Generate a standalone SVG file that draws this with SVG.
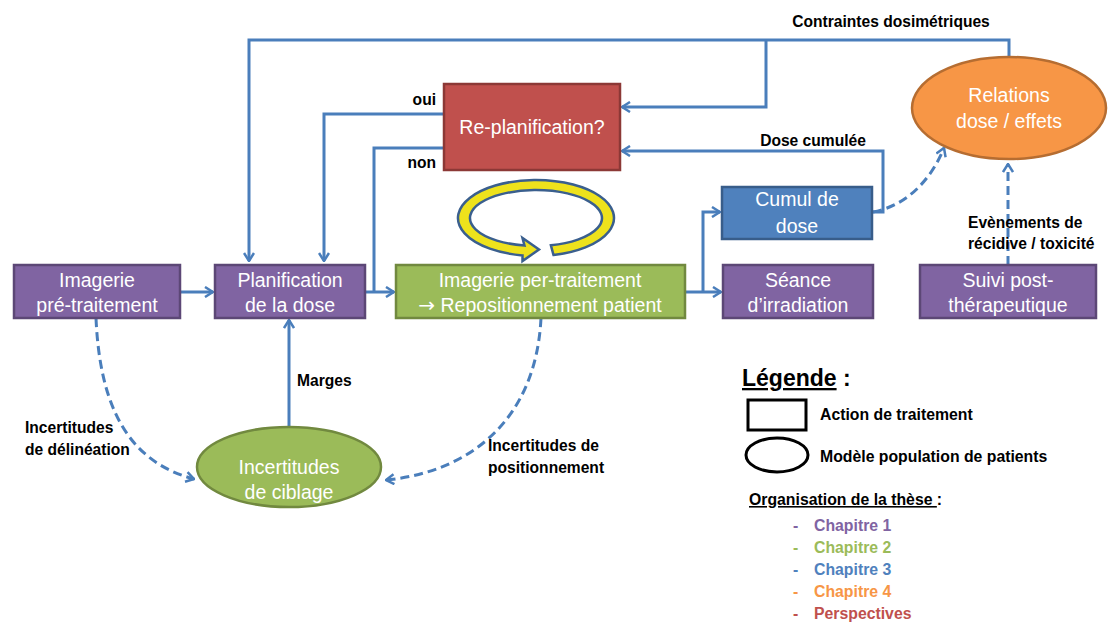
<svg xmlns="http://www.w3.org/2000/svg" width="1108" height="622" viewBox="0 0 1108 622">
<style>
.c{fill:none;stroke:#4A7EBB;stroke-width:3}
.d{fill:none;stroke:#4A7EBB;stroke-width:3;stroke-dasharray:9 5}
.nt{font-family:"Liberation Sans",Arial,sans-serif;font-size:19.5px;fill:#FFFFFF;text-anchor:middle}
.lb{font-family:"Liberation Sans",Arial,sans-serif;font-size:15.6px;font-weight:bold;fill:#000000}
.pu{fill:#8064A2;stroke:#5C4776;stroke-width:2.5}
.gr{fill:#9BBB59;stroke:#71893F;stroke-width:2.5}
.bl{fill:#4F81BD;stroke:#385D8A;stroke-width:2.5}
.rd{fill:#C0504D;stroke:#8C3836;stroke-width:2.5}
.or{fill:#F79646;stroke:#B66D31;stroke-width:2.5}
.lg{font-family:"Liberation Sans",Arial,sans-serif;font-size:15.8px;font-weight:bold}
.ar{font-family:"DejaVu Sans",sans-serif;font-size:20px}
</style>
<defs>
<marker id="a" viewBox="0 0 10 12" refX="9" refY="6" markerWidth="10" markerHeight="12" markerUnits="userSpaceOnUse" orient="auto">
<path d="M1,1 L9,6 L1,11" fill="none" stroke="#4A7EBB" stroke-width="2.5"/>
</marker>
</defs>
<rect width="1108" height="622" fill="#FFFFFF"/>

<g id="connectors">
<path class="c" d="M1009,57 V40 H249 V261" marker-end="url(#a)"/>
<path class="c" d="M766,40 V107 H622" marker-end="url(#a)"/>
<path class="c" d="M873,212 H883 V151 H622" marker-end="url(#a)"/>
<path class="c" d="M444,114 H324 V261" marker-end="url(#a)"/>
<path class="c" d="M444,148 H374 V292"/>
<path class="c" d="M180,292 H213" marker-end="url(#a)"/>
<path class="c" d="M365,292 H394" marker-end="url(#a)"/>
<path class="c" d="M685,292 H721" marker-end="url(#a)"/>
<path class="c" d="M703,292 V212 H720" marker-end="url(#a)"/>
<path class="c" d="M289,427 V320" marker-end="url(#a)"/>
<path class="d" d="M96,318 C100,410 130,462 194,479" marker-end="url(#a)"/>
<path class="d" d="M541,318 C536,420 470,472 386,480" marker-end="url(#a)"/>
<path class="d" d="M873,212 C905,206 930,182 944,148" marker-end="url(#a)"/>
<path class="d" d="M1008,265 V164" marker-end="url(#a)"/>
</g>

<g id="labels">
<text class="lb" x="891" y="27" text-anchor="middle">Contraintes dosimétriques</text>
<text class="lb" x="436" y="105" text-anchor="end">oui</text>
<text class="lb" x="436" y="168" text-anchor="end">non</text>
<text class="lb" x="813" y="146" text-anchor="middle">Dose cumulée</text>
<text class="lb" x="968" y="228">Evènements de</text>
<text class="lb" x="968" y="249">récidive / toxicité</text>
<text class="lb" x="297" y="386">Marges</text>
<text class="lb" x="25" y="433">Incertitudes</text>
<text class="lb" x="25" y="455">de délinéation</text>
<text class="lb" x="488" y="451">Incertitudes de</text>
<text class="lb" x="488" y="473">positionnement</text>
</g>

<g id="cycle">
<path d="M553.5,255 A78,38 0 1 0 522.5,255.4 L522.5,261 L539,249.5 L522.5,238 L524.5,245.6 A66,28 0 1 1 550.9,245.3 Z" fill="#EEE21C" stroke="#3A5F8E" stroke-width="2.5" stroke-linejoin="miter"/>
</g>

<g id="replanification">
<rect class="rd" x="444" y="84" width="176" height="86"/>
<text class="nt" x="532" y="134">Re-planification?</text>
</g>

<g id="relations">
<ellipse class="or" cx="1009" cy="108" rx="97" ry="51"/>
<text class="nt" x="1009" y="102">Relations</text>
<text class="nt" x="1009" y="128">dose / effets</text>
</g>

<g id="cumul">
<rect class="bl" x="722" y="187" width="150" height="52"/>
<text class="nt" x="797" y="206">Cumul de</text>
<text class="nt" x="797" y="233">dose</text>
</g>

<g id="imagerie-pre">
<rect class="pu" x="14" y="265" width="166" height="53"/>
<text class="nt" x="97" y="287">Imagerie</text>
<text class="nt" x="97" y="312">pré-traitement</text>
</g>

<g id="planification">
<rect class="pu" x="215" y="265" width="150" height="53"/>
<text class="nt" x="290" y="287">Planification</text>
<text class="nt" x="290" y="312">de la dose</text>
</g>

<g id="imagerie-per">
<rect class="gr" x="396" y="265" width="289" height="53"/>
<text class="nt" x="540" y="287">Imagerie per-traitement</text>
<text class="nt" x="540" y="312"><tspan class="ar">→</tspan> Repositionnement patient</text>
</g>

<g id="seance">
<rect class="pu" x="723" y="265" width="150" height="53"/>
<text class="nt" x="798" y="287">Séance</text>
<text class="nt" x="798" y="312">d’irradiation</text>
</g>

<g id="suivi">
<rect class="pu" x="920" y="265" width="176" height="53"/>
<text class="nt" x="1008" y="287">Suivi post-</text>
<text class="nt" x="1008" y="312">thérapeutique</text>
</g>

<g id="incertitudes-ciblage">
<ellipse class="gr" cx="289" cy="467" rx="92" ry="40"/>
<text class="nt" x="289" y="474">Incertitudes</text>
<text class="nt" x="289" y="499">de ciblage</text>
</g>

<g id="legend">
<text x="742" y="386" font-family="Liberation Sans, Arial, sans-serif" font-size="23" font-weight="bold" fill="#000"><tspan text-decoration="underline">Légende</tspan> :</text>
<rect x="748" y="400" width="58" height="30" fill="none" stroke="#000" stroke-width="3"/>
<text class="lg" x="820" y="420" fill="#000">Action de traitement</text>
<ellipse cx="777" cy="455" rx="31" ry="17" fill="none" stroke="#000" stroke-width="3"/>
<text class="lg" x="820" y="462" fill="#000">Modèle population de patients</text>
<text class="lg" x="749" y="505" fill="#000"><tspan text-decoration="underline">Organisation de la thèse </tspan>:</text>
<text class="lg" x="793" y="531" font-weight="normal" fill="#8064A2">-</text>
<text class="lg" x="814" y="531" fill="#8064A2">Chapitre 1</text>
<text class="lg" x="793" y="553" font-weight="normal" fill="#9BBB59">-</text>
<text class="lg" x="814" y="553" fill="#9BBB59">Chapitre 2</text>
<text class="lg" x="793" y="575" font-weight="normal" fill="#4F81BD">-</text>
<text class="lg" x="814" y="575" fill="#4F81BD">Chapitre 3</text>
<text class="lg" x="793" y="597" font-weight="normal" fill="#F79646">-</text>
<text class="lg" x="814" y="597" fill="#F79646">Chapitre 4</text>
<text class="lg" x="793" y="619" font-weight="normal" fill="#C0504D">-</text>
<text class="lg" x="814" y="619" fill="#C0504D">Perspectives</text>
</g>
</svg>
